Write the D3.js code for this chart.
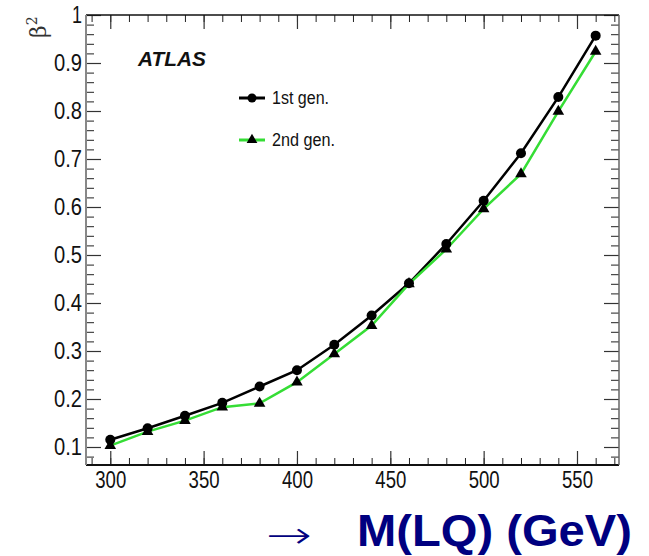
<!DOCTYPE html>
<html>
<head>
<meta charset="utf-8">
<script src="https://cdn.jsdelivr.net/npm/d3@7"></script>
<style>
  body { margin: 0; background: #fff; }
  svg { display: block; }
</style>
</head>
<body>
<div id="graph"></div>
<script>
let width = 649;
let height = 556;

// data
let masses = [300, 320, 340, 360, 380, 400, 420, 440, 460, 480, 500, 520, 540, 560];
let gen1 = [0.115, 0.139, 0.165, 0.192, 0.226, 0.260, 0.313, 0.374, 0.441, 0.523, 0.613, 0.712, 0.829, 0.957];
let gen2 = [0.103, 0.132, 0.155, 0.183, 0.191, 0.235, 0.294, 0.353, 0.440, 0.512, 0.596, 0.669, 0.799, 0.924];
let xMajor = [300, 350, 400, 450, 500, 550];
let xMinor = d3.range(290, 571, 10);
let yMajor = [0.1, 0.2, 0.3, 0.4, 0.5, 0.6, 0.7, 0.8, 0.9, 1.0];
let yMinor = d3.range(4, 51).map(d => d * 0.02);
let legendLabels = ["1st gen.", "2nd gen."];

let pLeft = 86, pRight = 619, pTop = 15, pBottom = 465;
let narrow = "'Liberation Sans Narrow', 'Arial Narrow', 'Liberation Sans', sans-serif";
let green = "#35dd35";

let svg = d3.select('#graph')
    .append('svg')
    .attr('width', width)
    .attr('height', height);

let x = d3.scaleLinear().domain([287, 572.5]).range([pLeft, pRight]);
let y = d3.scaleLinear().domain([0.0625, 1.0]).range([pBottom, pTop]);

// minor ticks first, all four sides
function minor(axis, tx, ty) {
    let g = svg.append('g').attr('transform', 'translate(' + tx + ',' + ty + ')').call(axis);
    g.selectAll('text').remove();
    g.select('.domain').remove();
    g.selectAll('line').attr('stroke', '#222').attr('stroke-width', 1);
}
let yMin = yMinor.filter(d => d >= 0.0625);
minor(d3.axisBottom(x).tickValues(xMinor).tickSize(-7), 0, pBottom);
minor(d3.axisTop(x).tickValues(xMinor).tickSize(-7), 0, pTop);
minor(d3.axisLeft(y).tickValues(yMin).tickSize(-8), pLeft, 0);
minor(d3.axisRight(y).tickValues(yMin).tickSize(-8), pRight, 0);

// major ticks
let xAxis = svg.append('g')
    .attr('transform', 'translate(0,' + pBottom + ')')
    .call(d3.axisBottom(x).tickValues(xMajor).tickSize(-14).tickPadding(7).tickFormat(d3.format('d')));
let xTop = svg.append('g')
    .attr('transform', 'translate(0,' + pTop + ')')
    .call(d3.axisTop(x).tickValues(xMajor).tickSize(-14).tickFormat(''));
let yAxis = svg.append('g')
    .attr('transform', 'translate(' + pLeft + ',0)')
    .call(d3.axisLeft(y).tickValues(yMajor).tickSize(-15).tickPadding(4)
        .tickFormat(d => d === 1 ? '1' : d.toFixed(1)));
let yRight = svg.append('g')
    .attr('transform', 'translate(' + pRight + ',0)')
    .call(d3.axisRight(y).tickValues(yMajor).tickSize(-15).tickFormat(''));

[xAxis, xTop, yAxis, yRight].forEach(function(g) {
    g.select('.domain').remove();
    g.selectAll('line').attr('stroke', '#333').attr('stroke-width', 1.2);
    g.selectAll('text')
        .attr('fill', '#111')
        .style('font-family', narrow)
        .style('font-size', '23px');
});
// condensed look for the tick labels
xAxis.selectAll('text').attr('textLength', 31).attr('lengthAdjust', 'spacingAndGlyphs');
yAxis.selectAll('text').filter(d => d !== 1)
    .attr('textLength', 28).attr('lengthAdjust', 'spacingAndGlyphs');
yAxis.selectAll('text').filter(d => d === 1)
    .attr('textLength', 10).attr('lengthAdjust', 'spacingAndGlyphs');

// frame
svg.append('line').attr('x1', pLeft).attr('x2', pRight).attr('y1', pBottom).attr('y2', pBottom)
    .attr('stroke', '#111').attr('stroke-width', 1.8);
svg.append('line').attr('x1', pLeft).attr('x2', pRight).attr('y1', pTop).attr('y2', pTop)
    .attr('stroke', '#111').attr('stroke-width', 1.5);
svg.append('line').attr('x1', pLeft).attr('x2', pLeft).attr('y1', pTop).attr('y2', pBottom)
    .attr('stroke', '#888').attr('stroke-width', 2);
svg.append('line').attr('x1', pRight).attr('x2', pRight).attr('y1', pTop).attr('y2', pBottom)
    .attr('stroke', '#666').attr('stroke-width', 1.5);

// lines
let line = d3.line().x((d, i) => x(masses[i])).y(d => y(d));
svg.append('path').attr('d', line(gen1))
    .style('fill', 'none').attr('stroke', '#000').style('stroke-width', 2.5);
svg.append('path').attr('d', line(gen2))
    .style('fill', 'none').attr('stroke', green).style('stroke-width', 2.5);

let tri = d3.symbol().type(d3.symbolTriangle).size(58);
svg.append('g').selectAll('path').data(gen2).enter().append('path')
    .attr('d', tri)
    .attr('transform', (d, i) => 'translate(' + x(masses[i]) + ',' + y(d) + ')')
    .attr('fill', '#000');
svg.append('g').selectAll('circle').data(gen1).enter().append('circle')
    .attr('cx', (d, i) => x(masses[i]))
    .attr('cy', d => y(d))
    .attr('r', 5)
    .attr('fill', '#000');

// legend
let legend = svg.append('g');
let legendWidths = [57, 63];
legendLabels.forEach(function(lab, i) {
    let ly = 98 + i * 42;
    legend.append('line').attr('x1', 239).attr('x2', 265).attr('y1', ly).attr('y2', ly)
        .attr('stroke', i === 0 ? '#000' : green).attr('stroke-width', 3);
    if (i === 0) {
        legend.append('circle').attr('cx', 252).attr('cy', ly).attr('r', 4.5).attr('fill', '#000');
    } else {
        legend.append('path').attr('d', d3.symbol().type(d3.symbolTriangle).size(50))
            .attr('transform', 'translate(252,' + ly + ')').attr('fill', '#000');
    }
    legend.append('text').attr('x', 272).attr('y', ly + 6)
        .style('font-family', narrow).style('font-size', '18px').attr('fill', '#111')
        .attr('textLength', legendWidths[i]).attr('lengthAdjust', 'spacingAndGlyphs')
        .text(lab);
});

// ATLAS label
svg.append('text').attr('x', 138).attr('y', 66)
    .style('font-family', "'Liberation Sans', Arial, sans-serif")
    .style('font-size', '21px').style('font-weight', 'bold').style('font-style', 'italic')
    .attr('textLength', 68).attr('lengthAdjust', 'spacingAndGlyphs')
    .attr('fill', '#111').text('ATLAS');

// y title, rotated
let yt = svg.append('text').attr('transform', 'translate(46,38) rotate(-90)')
    .style('font-family', "'DejaVu Serif', serif").style('font-size', '22px').attr('fill', '#333');
yt.append('tspan').text('β');
yt.append('tspan').attr('dy', -9).style('font-size', '14px').text('2');

// x title
svg.append('text').attr('x', 266).attr('y', 548)
    .style('font-family', "'DejaVu Sans', sans-serif").style('font-size', '37px')
    .style('font-weight', 300)
    .attr('textLength', 46).attr('lengthAdjust', 'spacingAndGlyphs')
    .attr('fill', '#000080').text('→');
svg.append('text').attr('x', 357).attr('y', 546)
    .style('font-family', "'Liberation Sans', Arial, sans-serif").style('font-size', '44px')
    .style('font-weight', 'bold').attr('fill', '#000080')
    .attr('textLength', 275).attr('lengthAdjust', 'spacingAndGlyphs')
    .text('M(LQ) (GeV)');
</script>
</body>
</html>
